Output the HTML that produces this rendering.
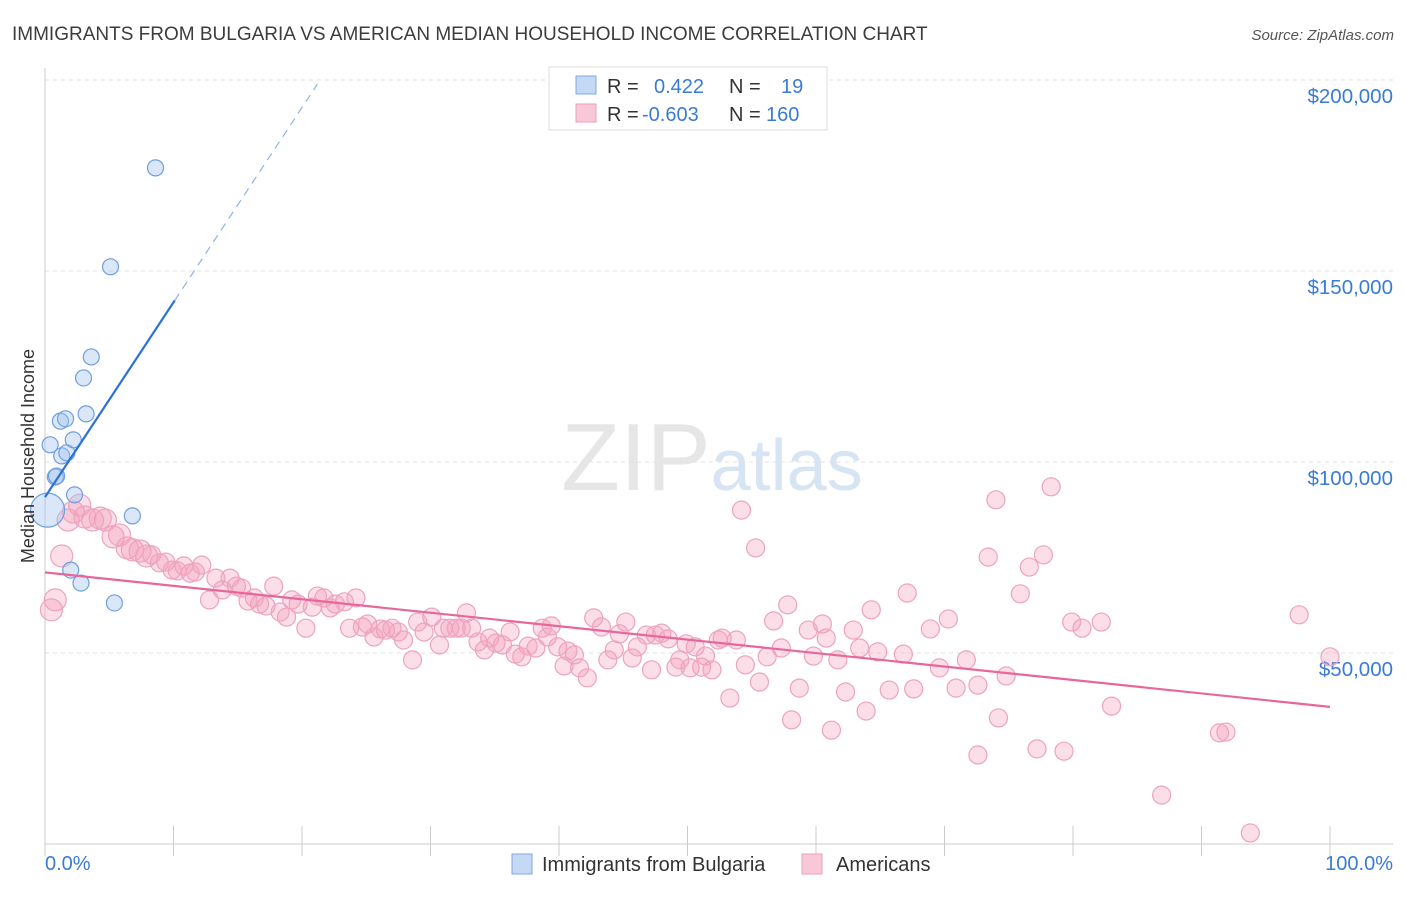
<!DOCTYPE html>
<html><head><meta charset="utf-8"><style>
body{margin:0;background:#fff;font-family:"Liberation Sans",sans-serif;}
svg text{font-family:"Liberation Sans",sans-serif;}
</style></head><body>
<svg id="chart" width="1406" height="892" xmlns="http://www.w3.org/2000/svg">
<text x="12" y="40" font-size="19" fill="#3c3c3c">IMMIGRANTS FROM BULGARIA VS AMERICAN MEDIAN HOUSEHOLD INCOME CORRELATION CHART</text>
<text x="1394" y="40" font-size="15" fill="#555" font-style="italic" text-anchor="end">Source: ZipAtlas.com</text>
<text x="712" y="490" font-size="96" fill="#e6e6e6" text-anchor="middle" font-family="Liberation Serif">ZIP<tspan fill="#d6e4f3" font-family="Liberation Sans" font-size="72">atlas</tspan></text>
<g id="grid"></g><g id="axes"></g><g id="marks"></g>
<text transform="translate(34,456) rotate(-90)" font-size="18" fill="#333" text-anchor="middle">Median Household Income</text>
<text x="45" y="870" font-size="20" fill="#3a7bd5">0.0%</text>
<text x="1393" y="870" font-size="20" fill="#3a7bd5" text-anchor="end">100.0%</text>
<g>
<rect x="549" y="67" width="278" height="63" fill="#fff" stroke="#ddd"/>
<rect x="576" y="76" width="20" height="18" fill="#c5d9f5" stroke="#7fa8e0"/>
<rect x="576" y="104" width="20" height="18" fill="#f9c8d8" stroke="#eba0ba"/>
<text x="607" y="93" font-size="20" fill="#333">R = <tspan fill="#3a7bd5" x="654">0.422</tspan><tspan x="729">N =</tspan><tspan fill="#3a7bd5" x="781">19</tspan></text>
<text x="607" y="121" font-size="20" fill="#333">R = <tspan fill="#3a7bd5" x="642">-0.603</tspan><tspan x="729">N =</tspan><tspan fill="#3a7bd5" x="766">160</tspan></text>
</g>
<g>
<rect x="512" y="854" width="20" height="20" fill="#c5d9f5" stroke="#7fa8e0"/>
<text x="542" y="871" font-size="20" fill="#333">Immigrants from Bulgaria</text>
<rect x="802" y="854" width="20" height="20" fill="#f9c8d8" stroke="#eba0ba"/>
<text x="836" y="871" font-size="20" fill="#333">Americans</text>
</g>
</svg>
<script>
const yTicks=[50000,100000,150000,200000];
const yTickLabels=["$50,000","$100,000","$150,000","$200,000"];
const xTicks=[0,10,20,30,40,50,60,70,80,90,100];
const blueX=[0.2,0.4,0.8,0.9,1.2,1.6,1.3,1.7,2.2,2.0,2.3,2.8,3.0,3.2,3.6,5.1,5.4,6.8,8.6];
const blueY=[87.4,104.5,96.1,96.3,110.7,111.3,101.6,102.4,105.8,71.7,91.4,68.3,122.0,112.6,127.5,151.1,63.1,85.9,177.0];
const pinkX=[0.5,0.8,1.3,1.8,2.2,2.7,3.1,3.7,4.3,4.7,5.3,5.8,6.4,6.8,7.4,7.9,8.3,8.9,9.4,9.9,10.3,10.8,11.3,11.7,12.2,12.8,13.3,13.8,14.4,14.9,15.3,15.8,16.3,16.7,17.2,17.8,18.3,18.8,19.2,19.7,20.3,20.8,21.2,21.7,22.2,22.6,23.3,23.7,24.2,24.7,25.1,25.6,26.1,26.5,27.0,27.5,27.9,28.6,29.0,29.5,30.1,30.7,31.0,31.5,32.0,32.4,32.8,33.2,33.7,34.2,34.6,35.1,35.6,36.2,36.6,37.1,37.6,38.2,38.7,39.1,39.4,39.9,40.4,40.7,41.2,41.6,42.2,42.7,43.3,43.8,44.3,44.7,45.2,45.7,46.1,46.8,47.2,47.5,48.0,48.5,49.1,49.4,49.9,50.2,50.6,51.1,51.4,51.9,52.4,52.7,53.3,53.8,54.2,54.5,55.3,55.6,56.2,56.7,57.3,57.8,58.1,58.7,59.4,59.8,60.5,60.8,61.2,61.7,62.3,62.9,63.4,63.9,64.3,64.8,65.7,66.8,67.1,67.6,68.9,69.6,70.3,70.9,71.7,72.6,72.6,73.4,74.0,74.2,74.8,75.9,76.6,77.2,77.7,78.3,79.3,79.9,80.7,82.2,83.0,86.9,91.4,91.9,93.8,97.6,100];
const pinkY=[61.3,63.9,75.4,84.8,86.9,88.7,85.6,84.8,85.3,84.8,80.4,80.9,77.5,77.0,76.7,75.4,75.7,73.6,73.8,71.7,71.5,72.8,70.9,71.2,73.0,63.9,69.6,66.5,69.6,67.5,67.0,63.6,64.4,62.8,62.3,67.5,60.7,59.4,63.9,62.8,56.5,62.0,64.9,64.4,61.8,62.8,63.4,56.5,64.4,56.8,57.6,54.2,56.3,56.0,56.5,55.5,53.4,48.2,58.1,55.5,59.4,52.1,56.5,56.5,56.5,56.5,60.5,56.5,52.9,50.8,53.9,52.6,52.1,55.5,49.7,49.0,51.8,51.3,56.5,54.2,57.1,51.6,46.6,50.5,49.5,46.1,43.5,59.2,56.8,48.2,50.8,55.0,58.1,48.7,51.6,54.7,45.6,54.7,55.2,53.7,46.3,48.2,52.4,46.1,51.6,46.3,49.2,45.6,53.4,53.9,38.2,53.4,87.4,46.9,77.5,42.4,49.0,58.4,51.3,62.6,32.5,40.8,56.0,49.2,57.6,53.9,29.8,48.2,39.8,56.0,51.3,34.8,61.3,50.3,40.3,49.7,65.7,40.6,56.3,46.1,58.9,40.8,48.2,23.3,41.6,75.1,90.1,33.0,44.0,65.5,72.5,24.9,75.7,93.5,24.3,58.1,56.5,58.1,36.1,12.8,29.1,29.3,2.9,60.0,49.0];
const blueTrend=[90.8,5.1]; // intercept (k), slope per %
const pinkTrend=[71.1,-0.352];
const NS="http://www.w3.org/2000/svg";
const X=p=>45+p*12.85, Y=k=>844-k*1000*191/50000;
function mk(tag,attrs,parent){const e=document.createElementNS(NS,tag);for(const k in attrs)e.setAttribute(k,attrs[k]);document.getElementById(parent).appendChild(e);return e;}
yTicks.forEach((v,i)=>{
 const g=mk('line',{x1:45,x2:1393,y1:Y(v/1000),y2:Y(v/1000),stroke:'#e2e2e2','stroke-dasharray':'4 4'},'grid');
 
 
 const t=mk('text',{x:1393,y:Y(v/1000)+23,'font-size':20.5,fill:'#3a7bd5','text-anchor':'end'},'grid');
 t.textContent=yTickLabels[i];
 
 
});
const ya=mk('line',{x1:45,x2:45,y1:68,y2:844,stroke:'#ccc'},'axes');


const xa=mk('line',{x1:45,x2:1393,y1:844,y2:844,stroke:'#ccc'},'axes');


xTicks.forEach(v=>{const t=mk('line',{x1:X(v),x2:X(v),y1:826,y2:856,stroke:'#ccc'},'axes');
 
 });
pinkX.forEach((x,i)=>{const r=(x<8)?11:9;const c=mk('circle',{cx:X(x),cy:Y(pinkY[i]),r:r,fill:'rgba(244,160,190,0.35)',stroke:'#eda3bd','stroke-width':1.2},'marks');
 
 });
blueX.forEach((x,i)=>{const c=mk('circle',{cx:X(x),cy:Y(blueY[i]),r:i==0?17:8,fill:'rgba(160,195,240,0.4)',stroke:'#6f9fdf','stroke-width':1.2},'marks');
 
 });
const pl=mk('line',{x1:X(0),y1:Y(pinkTrend[0]),x2:X(100),y2:Y(pinkTrend[0]+pinkTrend[1]*100),stroke:'#e8679a','stroke-width':2.2},'marks');


const bl=mk('line',{x1:X(0),y1:Y(blueTrend[0]),x2:X(10.1),y2:Y(blueTrend[0]+blueTrend[1]*10.1),stroke:'#2c72d6','stroke-width':2.2},'marks');


const bd=mk('line',{x1:X(10.1),y1:Y(blueTrend[0]+blueTrend[1]*10.1),x2:X(21.2),y2:Y(blueTrend[0]+blueTrend[1]*21.2),stroke:'#8db4ea','stroke-width':1.2,'stroke-dasharray':'8 6'},'marks');


</script>
</body></html>
